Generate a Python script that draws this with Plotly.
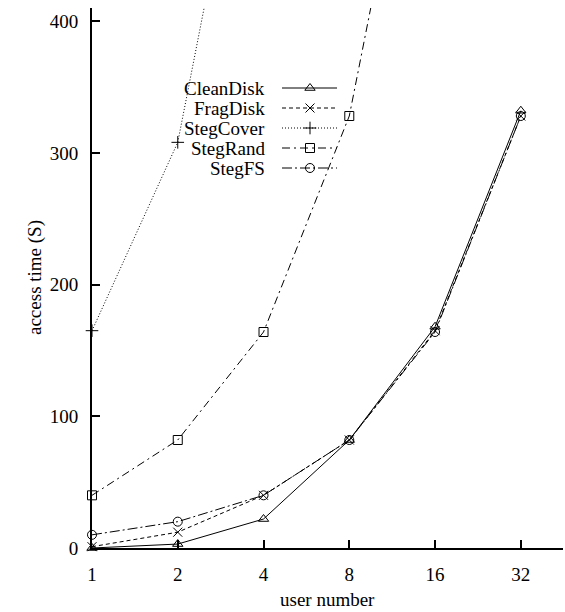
import math
import plotly.graph_objects as go

# ---- data ----
users = [1, 2, 4, 8, 16, 32]
clean_disk = [0, 3, 22, 82, 168, 332]
frag_disk = [1, 12, 40, 82, 165, 328]
steg_cover = [165, 308, 640, None, None, None]
steg_rand = [40, 82, 164, 328, 656, None]
steg_fs = [10, 20, 40, 82, 164, 328]
series_names = ["CleanDisk", "FragDisk", "StegCover", "StegRand", "StegFS"]
x_ticks = [1, 2, 4, 8, 16, 32]
y_ticks = [0, 100, 200, 300, 400]

# ---- styles ----
FONT = "Liberation Serif, Times New Roman, serif"
styles = {
    "CleanDisk": dict(dash="solid", symbol="triangle-up-open"),
    "FragDisk": dict(dash="4px,3px", symbol="x-thin-open"),
    "StegCover": dict(dash="1px,2px", symbol="cross-thin-open"),
    "StegRand": dict(dash="8px,4px,2px,4px", symbol="square-open"),
    "StegFS": dict(dash="10px,3px,2px,3px", symbol="circle-open"),
}
values = {
    "CleanDisk": clean_disk,
    "FragDisk": frag_disk,
    "StegCover": steg_cover,
    "StegRand": steg_rand,
    "StegFS": steg_fs,
}

W, H = 565, 612
ML, MR, MT, MB = 92, 2, 8, 64
PW, PH = W - ML - MR, H - MT - MB


def px_x(px):
    return (px - ML) / PW


def px_y(py):
    return (MT + PH - py) / PH


fig = go.Figure()

for name in series_names:
    st = styles[name]
    fig.add_trace(go.Scatter(
        x=users, y=values[name], mode="lines+markers", name=name,
        line=dict(color="black", width=1, dash=st["dash"]),
        marker=dict(symbol=st["symbol"], size=9, color="black",
                    line=dict(color="black", width=1)),
        cliponaxis=False, showlegend=False, connectgaps=False,
    ))

# ---- hand-made legend (text left, sample right) on an overlay axis ----
leg_text_right = px_x(267)
leg_line = (px_x(282), px_x(337))
leg_mark = px_x(310)
leg_row0, leg_step = 88, 20
annotations = []
for i, name in enumerate(series_names):
    st = styles[name]
    yy = px_y(leg_row0 + i * leg_step)
    fig.add_trace(go.Scatter(
        x=list(leg_line), y=[yy, yy], mode="lines", xaxis="x2", yaxis="y2",
        line=dict(color="black", width=1, dash=st["dash"]),
        showlegend=False, hoverinfo="skip"))
    fig.add_trace(go.Scatter(
        x=[leg_mark], y=[yy], mode="markers", xaxis="x2", yaxis="y2",
        marker=dict(symbol=st["symbol"], size=9, color="black",
                    line=dict(color="black", width=1)),
        showlegend=False, hoverinfo="skip"))
    annotations.append(dict(
        x=leg_text_right, y=yy, xref="paper", yref="paper", text=name,
        showarrow=False, xanchor="right", yanchor="middle",
        font=dict(family=FONT, size=19, color="black")))

annotations.append(dict(
    x=(px_x(ML) + px_x(W - MR)) / 2, y=px_y(599), xref="paper", yref="paper",
    text="user number", showarrow=False, xanchor="center", yanchor="middle",
    font=dict(family=FONT, size=19, color="black")))
annotations.append(dict(
    x=px_x(35), y=px_y(278), xref="paper", yref="paper",
    text="access time (S)", showarrow=False, textangle=-90,
    xanchor="center", yanchor="middle",
    font=dict(family=FONT, size=19, color="black")))

fig.update_layout(
    width=W, height=H,
    margin=dict(l=ML, r=MR, t=MT, b=MB, pad=0),
    paper_bgcolor="white", plot_bgcolor="white",
    font=dict(family=FONT, size=19, color="black"),
    annotations=annotations,
    xaxis=dict(
        type="log", range=[0, math.log10(45)],
        tickvals=x_ticks, ticktext=[str(v) for v in x_ticks],
        ticks="inside", ticklen=8, tickwidth=1.5, tickcolor="black",
        showline=True, linecolor="black", linewidth=2,
        showgrid=False, zeroline=False, ticklabelstandoff=8,
        tickfont=dict(family=FONT, size=19, color="black"),
    ),
    yaxis=dict(
        range=[0, 410], tickvals=y_ticks,
        ticks="inside", ticklen=8, tickwidth=1.5, tickcolor="black",
        showline=True, linecolor="black", linewidth=2,
        showgrid=False, zeroline=False, ticklabelstandoff=8,
        tickfont=dict(family=FONT, size=19, color="black"),
    ),
    xaxis2=dict(overlaying="x", range=[0, 1], visible=False, fixedrange=True),
    yaxis2=dict(overlaying="y", range=[0, 1], visible=False, fixedrange=True),
)

fig.write_html(
    "out.html",
    config={"displayModeBar": False},
    post_script="document.body.style.margin='0';document.body.style.padding='0';",
)
